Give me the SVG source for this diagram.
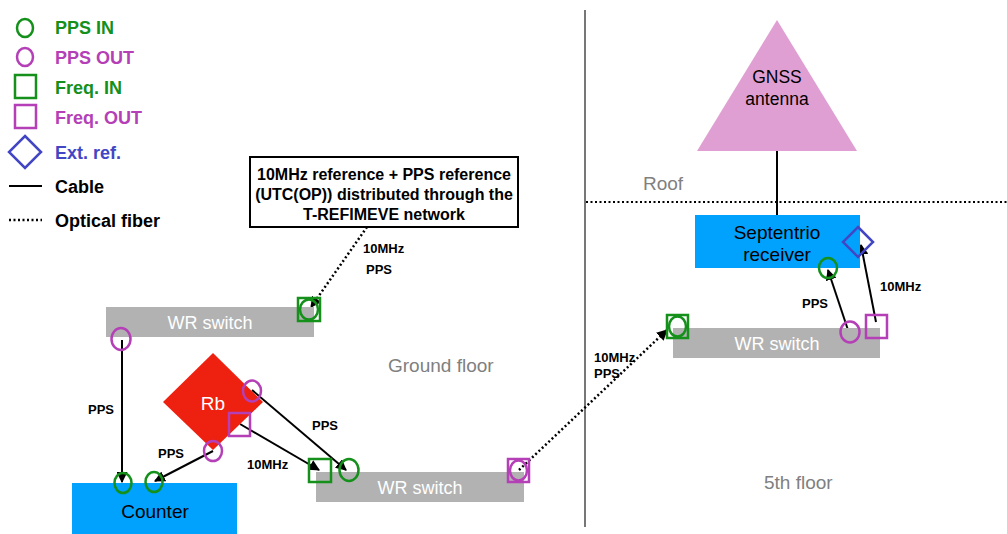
<svg xmlns="http://www.w3.org/2000/svg" width="1007" height="534" viewBox="0 0 1007 534">
  <style>
    text { font-family: "Liberation Sans", Arial, sans-serif; }
    .leg { font-size: 18px; font-weight: bold; }
    .green { fill: #14901b; }
    .mag { fill: #b43fb6; }
    .blue { fill: #4346c4; }
    .pin { fill: none; stroke: #14901b; stroke-width: 2.5; }
    .pout { fill: none; stroke: #b43fb6; stroke-width: 2.5; }
    .ext { fill: none; stroke: #4346c4; stroke-width: 2.5; }
    .switch { fill: #b2b2b2; }
    .swtxt { fill: #ffffff; font-size: 18px; text-anchor: middle; }
    .dev { fill: #00a2fe; }
    .devtxt { fill: #000000; font-size: 19px; text-anchor: middle; }
    .cable { stroke: #000000; stroke-width: 2; fill: none; }
    .fiber { stroke: #000000; stroke-width: 2.5; stroke-dasharray: 2 2.5; fill: none; }
    .lbl { font-size: 13px; font-weight: bold; fill: #000000; }
    .floor { font-size: 19px; fill: #808080; }
    .ref { font-size: 16px; font-weight: bold; text-anchor: middle; fill: #000000; }
  </style>
  <defs>
    <marker id="arrow" viewBox="0 0 10 10" refX="9" refY="5" markerWidth="11" markerHeight="11" markerUnits="userSpaceOnUse" orient="auto">
      <path d="M0,0 L10,5 L0,10 z" fill="#000000"/>
    </marker>
  </defs>

  <rect width="1007" height="534" fill="#ffffff"/>

  <!-- legend -->
  <g id="legend">
    <ellipse class="pin" cx="25" cy="28" rx="8" ry="9"/>
    <text class="leg green" x="55" y="34">PPS IN</text>
    <ellipse class="pout" cx="25" cy="57" rx="8" ry="9"/>
    <text class="leg mag" x="55" y="64">PPS OUT</text>
    <rect class="pin" x="15" y="75" width="21" height="23"/>
    <text class="leg green" x="55" y="94">Freq. IN</text>
    <rect class="pout" x="15" y="105" width="21" height="23"/>
    <text class="leg mag" x="55" y="124">Freq. OUT</text>
    <polygon class="ext" points="25,136 41,152 25,168 9,152"/>
    <text class="leg blue" x="55" y="159">Ext. ref.</text>
    <line class="cable" x1="9" y1="186" x2="42" y2="186"/>
    <text class="leg" x="55" y="193">Cable</text>
    <line class="fiber" x1="9" y1="220" x2="42" y2="220" stroke-width="2"/>
    <text class="leg" x="55" y="227">Optical fiber</text>
  </g>

  <!-- floor separators -->
  <g id="floors">
    <line x1="585" y1="10" x2="585" y2="527" stroke="#777777" stroke-width="2"/>
    <line x1="586" y1="202" x2="1007" y2="202" stroke="#000000" stroke-width="2" stroke-dasharray="2 2.5"/>
    <text class="floor" x="643" y="190">Roof</text>
    <text class="floor" x="388" y="372">Ground floor</text>
    <text class="floor" x="764" y="489">5th floor</text>
  </g>

  <!-- connectors -->
  <g id="connectors">
    <line class="fiber" x1="367" y1="227" x2="311" y2="307" marker-end="url(#arrow)"/>
    <line class="cable" x1="122" y1="340" x2="122" y2="482" marker-end="url(#arrow)"/>
    <line class="cable" x1="213" y1="451" x2="155" y2="481" marker-end="url(#arrow)"/>
    <line class="cable" x1="240" y1="424" x2="319" y2="470" marker-end="url(#arrow)"/>
    <line class="cable" x1="252" y1="390" x2="346" y2="470" marker-end="url(#arrow)"/>
    <line class="fiber" x1="519" y1="470" x2="667" y2="330" marker-end="url(#arrow)"/>
    <line class="cable" x1="848" y1="330" x2="828" y2="270" marker-end="url(#arrow)"/>
    <line class="cable" x1="876" y1="322" x2="861" y2="245" marker-end="url(#arrow)"/>
    <line class="cable" x1="777" y1="133" x2="777" y2="215"/>
    <text class="lbl" x="363" y="253">10MHz</text>
    <text class="lbl" x="366" y="274">PPS</text>
    <text class="lbl" x="88" y="414">PPS</text>
    <text class="lbl" x="158" y="458">PPS</text>
    <text class="lbl" x="312" y="430">PPS</text>
    <text class="lbl" x="247" y="469">10MHz</text>
    <text class="lbl" x="594" y="362">10MHz</text>
    <text class="lbl" x="594" y="378">PPS</text>
    <text class="lbl" x="802" y="308">PPS</text>
    <text class="lbl" x="880" y="291">10MHz</text>
  </g>

  <!-- T-REFIMEVE reference -->
  <g id="refimeve">
    <rect x="250" y="157" width="268" height="70" fill="#ffffff" stroke="#000000" stroke-width="2"/>
    <text class="ref" x="384" y="180">10MHz reference + PPS reference</text>
    <text class="ref" x="384" y="200">(UTC(OP)) distributed through the</text>
    <text class="ref" x="384" y="220">T-REFIMEVE network</text>
  </g>

  <!-- upper ground floor WR switch -->
  <g id="wr-switch-1">
    <rect class="switch" x="106" y="307" width="208" height="30"/>
    <text class="swtxt" x="210" y="329">WR switch</text>
    <rect class="pin" x="298" y="298" width="22" height="23"/>
    <ellipse class="pin" cx="309" cy="309.5" rx="9" ry="10"/>
    <ellipse class="pout" cx="121" cy="339" rx="9.5" ry="11"/>
  </g>

  <!-- rubidium clock -->
  <g id="rb">
    <polygon points="213,353 263,402 213,450 163,402" fill="#ee2010"/>
    <text x="213" y="410" font-size="19" fill="#ffffff" text-anchor="middle">Rb</text>
    <ellipse class="pout" cx="252" cy="391" rx="9" ry="10.5"/>
    <rect class="pout" x="229" y="413" width="21" height="23"/>
    <ellipse class="pout" cx="213" cy="451" rx="9" ry="10"/>
  </g>

  <!-- counter -->
  <g id="counter">
    <rect class="dev" x="72" y="483" width="165" height="51"/>
    <text class="devtxt" x="155" y="518" font-size="19.5">Counter</text>
    <ellipse class="pin" cx="123" cy="483" rx="8.5" ry="10"/>
    <ellipse class="pin" cx="154" cy="482" rx="8.5" ry="10"/>
  </g>

  <!-- lower ground floor WR switch -->
  <g id="wr-switch-2">
    <rect class="switch" x="316" y="472" width="208" height="30"/>
    <text class="swtxt" x="420" y="494">WR switch</text>
    <rect class="pin" x="309" y="459" width="22" height="23"/>
    <ellipse class="pin" cx="349" cy="470" rx="9.5" ry="11"/>
    <rect class="pout" x="508" y="459" width="21" height="23"/>
    <ellipse class="pout" cx="518.5" cy="470.5" rx="8.5" ry="10"/>
  </g>

  <!-- 5th floor WR switch -->
  <g id="wr-switch-3">
    <rect class="switch" x="673" y="328" width="207" height="30"/>
    <text class="swtxt" x="777" y="350">WR switch</text>
    <rect class="pin" x="667" y="315" width="21" height="23"/>
    <ellipse class="pin" cx="677.5" cy="326.5" rx="8.5" ry="10"/>
    <ellipse class="pout" cx="850" cy="332" rx="9.5" ry="10.5"/>
    <rect class="pout" x="866" y="315" width="21" height="23"/>
  </g>

  <!-- Septentrio receiver -->
  <g id="septentrio">
    <rect class="dev" x="695" y="215" width="165" height="53"/>
    <text class="devtxt" x="777" y="239">Septentrio</text>
    <text class="devtxt" x="777" y="261">receiver</text>
    <ellipse class="pin" cx="828" cy="268" rx="9" ry="10"/>
    <polygon class="ext" points="858,227 873,242 858,257 843,242"/>
  </g>

  <!-- GNSS antenna -->
  <g id="gnss-antenna">
    <polygon points="777,20 857,151 697,151" fill="#e09fd2"/>
    <text x="777" y="83" font-size="17.5" text-anchor="middle">GNSS</text>
    <text x="777" y="105" font-size="17.5" text-anchor="middle">antenna</text>
  </g>
</svg>
